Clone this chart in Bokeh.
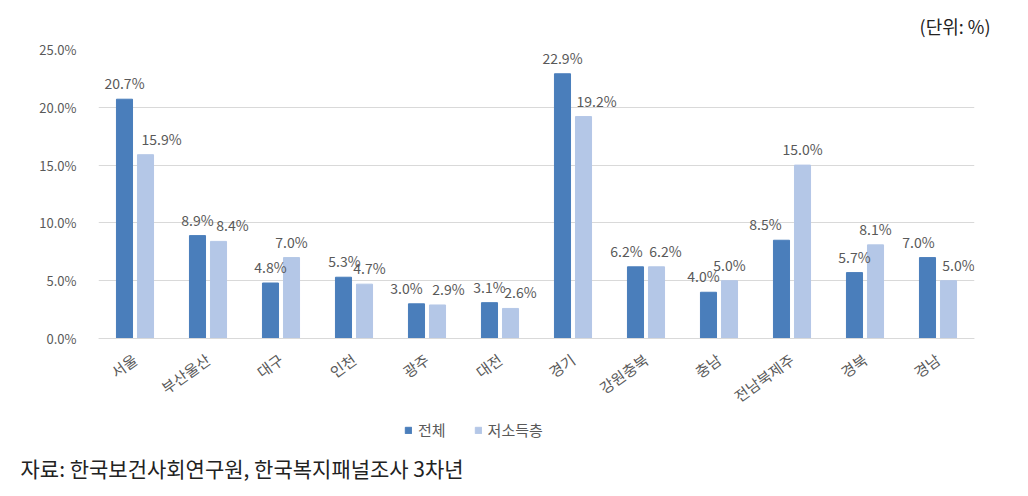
from bokeh.plotting import figure
from bokeh.models import (ColumnDataSource, FactorRange, Legend, LegendItem, Title, FixedTicker,
                          Range1d, CustomJSTickFormatter, Span)
from bokeh.core.properties import value
from bokeh.transform import dodge
from bokeh.embed import file_html
from bokeh.resources import INLINE

regions = ["서울", "부산울산", "대구", "인천", "광주", "대전", "경기", "강원충북", "충남", "전남북제주", "경북", "경남"]
total = [20.7, 8.9, 4.8, 5.3, 3.0, 3.1, 22.9, 6.2, 4.0, 8.5, 5.7, 7.0]
low_income = [15.9, 8.4, 7.0, 4.7, 2.9, 2.6, 19.2, 6.2, 5.0, 15.0, 8.1, 5.0]
series_names = ["전체", "저소득층"]
y_ticks = [0, 5, 10, 15, 20, 25]
unit_text = "(단위: %)"
source_text = "자료: 한국보건사회연구원, 한국복지패널조사 3차년"

# label nudges (pixels) imitating the reference's label placement
total_label_dx = [0, 0, 0, 1, -10, 0, 0, -9, -5, -16, 0, -9]
low_label_dx = [16, 14, 0, 5, 11, 10, 13, 9, 0, 0, 0, 10]

C1 = "#4a7ebb"
C2 = "#b4c7e7"
GREY = "#595959"
FONT = "Noto Sans CJK KR"

src = ColumnDataSource(dict(
    r=regions, t=total, l=low_income,
    tl=[f"{v:.1f}%" for v in total],
    ll=[f"{v:.1f}%" for v in low_income],
    tdx=total_label_dx, ldx=low_label_dx,
))

# frame spans y pixels 49..448 ; value 0 sits at pixel 338, 25 at pixel 49
PX_PER_UNIT = (338 - 49) / 25.0
y_low = -(448 - 338) / PX_PER_UNIT

p = figure(x_range=FactorRange(*regions, range_padding=0), y_range=Range1d(y_low, 25),
           width=1028, height=496, output_backend="svg", toolbar_location=None,
           min_border_left=98, min_border_right=54, min_border_top=49, min_border_bottom=48)
p.outline_line_color = None
p.background_fill_color = "white"
p.border_fill_color = "white"
p.xaxis.visible = False

OFF = 0.144
W = 0.22
b1 = p.vbar(x=dodge("r", -OFF, range=p.x_range), top="t", width=W, source=src, color=C1)
b2 = p.vbar(x=dodge("r", OFF, range=p.x_range), top="l", width=W, source=src, color=C2)

p.text(x=dodge("r", -OFF, range=p.x_range), y="t", text="tl", source=src, x_offset="tdx",
       text_font=value(FONT), text_font_size="14px", text_color=GREY,
       text_align="center", text_baseline="bottom", y_offset=-6)
p.text(x=dodge("r", OFF, range=p.x_range), y="l", text="ll", source=src, x_offset="ldx",
       text_font=value(FONT), text_font_size="14px", text_color=GREY,
       text_align="center", text_baseline="bottom", y_offset=-6)

# category axis drawn inside the frame
p.add_layout(Span(location=0, dimension="width", line_color="#d9d9d9", line_width=1))
p.text(x=dodge("r", 0.0, range=p.x_range), y=0, text="r", source=src, angle=0.62,
       text_font=value(FONT), text_font_size="15px", text_color=GREY,
       text_align="right", text_baseline="middle", y_offset=19)

p.yaxis.ticker = FixedTicker(ticks=y_ticks)
p.yaxis.formatter = CustomJSTickFormatter(code="return tick.toFixed(1) + '%';")
p.yaxis.axis_line_color = None
p.yaxis.major_tick_line_color = None
p.yaxis.minor_tick_line_color = None
p.yaxis.major_label_text_font = FONT
p.yaxis.major_label_text_font_size = "13px"
p.yaxis.major_label_text_color = GREY
p.yaxis.major_label_standoff = 16

p.xgrid.grid_line_color = None
p.ygrid.grid_line_color = "#d9d9d9"
p.ygrid.ticker = FixedTicker(ticks=y_ticks)

legend = Legend(items=[LegendItem(label=series_names[0], renderers=[b1]),
                       LegendItem(label=series_names[1], renderers=[b2])],
                orientation="horizontal", location=(306, 8),
                label_text_font=FONT, label_text_font_size="15px", label_text_color=GREY,
                glyph_width=8, glyph_height=8, spacing=28, label_standoff=6,
                background_fill_alpha=0, border_line_color=None, padding=0, margin=0)
p.add_layout(legend)

p.add_layout(Title(text=source_text, align="left", offset=-78, standoff=5,
                   text_font=FONT, text_font_size="21px", text_font_style="normal",
                   text_color="#222222"), "below")
p.add_layout(Title(text=unit_text, align="right", offset=-16, standoff=21,
                   text_font=FONT, text_font_size="18px", text_font_style="normal",
                   text_color="#222222"), "above")

open("out.html", "w").write(file_html(p, INLINE))
